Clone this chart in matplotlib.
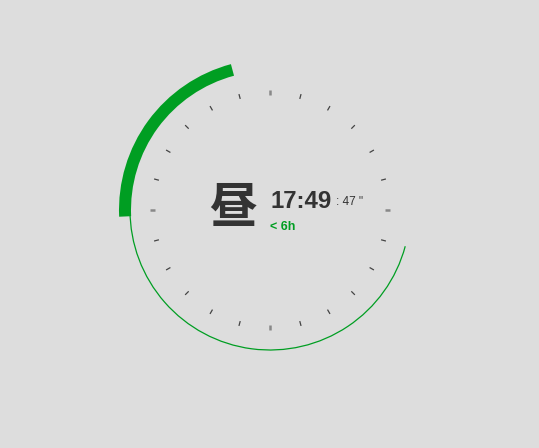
import matplotlib.pyplot as plt
from matplotlib.patches import Arc, Wedge
import numpy as np

# clock data (hours on a 24h dial, 0h at top, clockwise)
day_start = 7.0
day_end = 18.0
now_h, now_m, now_s = 17, 49, 47
target_hour = 23.0
remaining_label = "< 6h"
period_label = "昼"
tick_hours = list(range(24))

BG = "#dddddd"
GREEN = "#009e22"
DARK = "#333333"

W, H = 539, 448
cx, cy = 270, H - 210


def hour_to_deg(h):
    return 90 - h * 15


fig = plt.figure(figsize=(W / 100, H / 100), dpi=100, facecolor=BG)
ax = fig.add_axes([0, 0, 1, 1])
ax.set_xlim(0, W)
ax.set_ylim(0, H)
ax.set_aspect("equal")
ax.axis("off")
ax.set_facecolor(BG)

# thin day arc
ax.add_patch(Arc((cx, cy), 280, 280, theta1=hour_to_deg(day_end),
                 theta2=hour_to_deg(day_start), color=GREEN, lw=0.9))

# thick arc from now to target
now = now_h + now_m / 60 + now_s / 3600
ax.add_patch(Wedge((cx, cy), 151, hour_to_deg(target_hour) + 360,
                   hour_to_deg(now) + 360, width=12, color=GREEN, lw=0))

# dial ticks
for h in tick_hours:
    a = np.radians(hour_to_deg(h))
    r0, r1 = 115, 120
    major = h % 6 == 0
    ax.plot([cx + r0 * np.cos(a), cx + r1 * np.cos(a)],
            [cy + r0 * np.sin(a), cy + r1 * np.sin(a)],
            color="#888888" if major else "#444444",
            lw=1.8 if major else 0.9, solid_capstyle="butt")

# texts
ax.text(233.5, H - 208.5, period_label, fontsize=35, fontweight="bold",
        color=DARK, ha="center", va="center",
        family=["Noto Sans CJK SC", "DejaVu Sans"])
ax.text(271, H - 208, f"{now_h}:{now_m:02d}", fontsize=17.3,
        fontweight="bold", color=DARK, ha="left", va="baseline",
        family="Liberation Sans")
ax.text(335.5, H - 205, f': {now_s} "', fontsize=8.5, color=DARK,
        ha="left", va="baseline", family="Liberation Sans")
ax.text(270, H - 229.5, remaining_label, fontsize=9, fontweight="bold",
        color=GREEN, ha="left", va="baseline", family="Liberation Sans")

fig.savefig("out.png", dpi=100, facecolor=BG)
